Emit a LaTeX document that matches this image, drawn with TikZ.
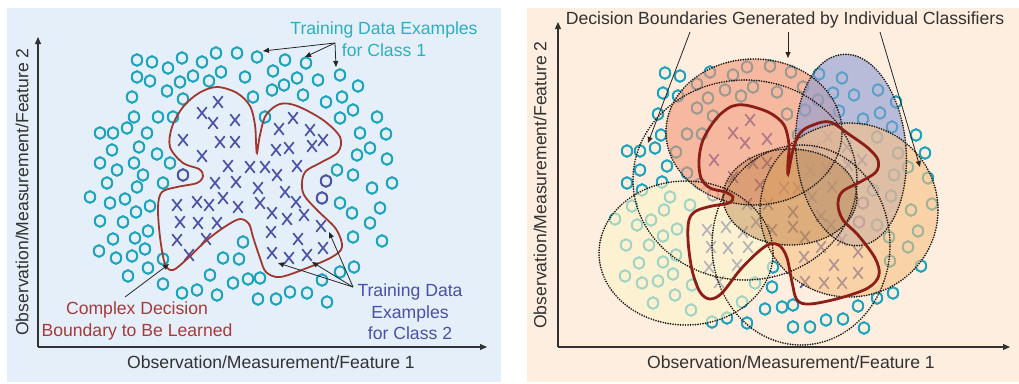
\documentclass[tikz,border=0pt]{standalone}
\usepackage{fontspec}
\setmainfont{Liberation Sans}
\usetikzlibrary{arrows.meta}

\definecolor{bgblue}{RGB}{228,239,249}
\definecolor{bgpeach}{RGB}{253,238,224}
\definecolor{oclr}{RGB}{28,164,188}
\definecolor{xclr}{RGB}{76,82,166}
\definecolor{bndl}{RGB}{160,56,48}
\definecolor{bndr}{RGB}{140,30,24}
\definecolor{txtred}{RGB}{168,58,58}
\definecolor{txtcyan}{RGB}{42,176,192}
\definecolor{txtblue}{RGB}{74,80,168}
\definecolor{axclr}{RGB}{50,50,50}
\definecolor{dotclr}{RGB}{30,26,24}
\definecolor{fsalmon}{RGB}{243,148,118}
\definecolor{fblue}{RGB}{138,156,212}
\definecolor{forange}{RGB}{248,192,130}
\definecolor{fyellow}{RGB}{252,244,200}
\definecolor{fbrown}{RGB}{170,112,48}

\begin{document}
\begin{tikzpicture}[x=1pt,y=-1pt,
  font=\fontsize{17.6}{21.5}\selectfont,
  omark/.style={draw=oclr, line width=2pt},
  pmark/.style={draw=xclr, line width=2pt},
  xcross/.pic={\draw[line width=1.7pt, draw=xclr] (-4.8,-5.8) -- (4.8,5.8) (-4.8,5.8) -- (4.8,-5.8);},
  axis/.style={draw=axclr, line width=1.1pt, -{Triangle[length=7pt,width=6pt]}},
  lead/.style={draw=black!85, line width=0.8pt, -{Triangle[length=6pt,width=5pt]}},
  dotline/.style={draw=dotclr, line width=1.9pt, line cap=round, dash pattern=on 0pt off 2.5pt},
  blob/.style={fill opacity=0.6, draw=none},
  axlabel/.style={text=axclr, inner sep=0pt},
]
\useasboundingbox (0,0) rectangle (1019,383);

% panel backgrounds
\fill[bgblue] (7,8) rectangle (501,382);
\fill[bgpeach] (527,8) rectangle (1019,382);

%% ---------------- left panel ----------------
% class 1 samples
\foreach \p in {(137,60),(152,62),(168,68),(182,58),(202,62),(216,53),(237,53),(257,57),(273,71),(285,60),(306,63),(340,75),(358,86),
  (137,77),(150,81),(167,91),(180,82),(193,76),(209,81),(221,72),(245,77),(272,90),(284,85),(297,78),(318,80),(342,97),(326,102),
  (132,97),(183,99),(253,97),(303,95),(353,110),(340,118),(377,117),
  (134,117),(158,117),(173,117),(265,117),
  (100,133),(113,133),(127,128),(147,133),(360,133),(386,134),
  (112,150),(139,147),(157,154),(170,163),(357,155),(370,148),(387,159),
  (100,163),(117,170),(134,163),(143,175),(337,170),(353,175),
  (107,183),(137,187),(163,183),(372,188),(392,183),
  (90,197),(110,203),(125,199),(150,206),(340,203),(352,213),(380,208),
  (100,221),(123,222),(136,212),(370,223),
  (113,239),(135,238),(148,231),(353,237),(382,241),
  (99,251),(116,258),(132,256),(145,249),(163,259),(243,242),(223,258),(239,259),
  (128,276),(148,268),(210,275),(233,283),(248,279),(260,278),(322,280),(340,272),(354,267),
  (163,284),(182,293),(197,290),(217,295),(258,299),(276,299),(290,292),(307,293),(327,302)}
  \draw[omark] \p ellipse[x radius=5.2pt, y radius=5.8pt];
% class 2 samples outside the boundary
\foreach \p in {(183,175),(326,181),(322,198)}
  \draw[pmark] \p ellipse[x radius=5.2pt, y radius=5.8pt];
% class 2 samples
\foreach \p in {(218,102),(202,113),(213,123),(235,120),(183,140),(220,142),(235,142),(202,156),(228,166),(250,167),(265,167),(277,175),(297,166),
  (215,183),(236,182),(258,188),(223,198),(238,207),(260,203),(285,192),(296,202),(177,205),(197,202),(209,205),(272,213),(287,219),(304,215),
  (180,222),(198,223),(217,223),(177,240),(206,239),(189,255),(271,232),(298,239),(321,226),(323,248),(272,253),(289,258),(307,255),
  (279,129),(293,118),(310,130),(276,150),(289,148),(312,146),(323,140)}
  \pic at \p {xcross};

% decision boundary to be learned
\draw[bndl, line width=1.8pt] plot[smooth cycle, tension=0.55] coordinates {
  (217,87) (237,93) (250,106) (255,125) (256,142) (257,153) (260,135) (266,115) (280,104) (297,106) (323,120) (340,137)
  (338,152) (320,163) (306,171) (302,182) (304,195) (317,210) (336,229) (342,247) (332,257) (307,268) (280,277) (266,272)
  (260,258) (253,237) (249,224) (240,219) (226,226) (207,240) (187,259) (173,270) (165,264) (160,237) (158,207) (162,192)
  (177,187) (197,183) (203,176) (199,169) (183,163) (170,147) (172,127) (183,107) (199,93)};

% axes
\coordinate (lorg) at (38,347);
\coordinate (ltop) at (38,37);
\coordinate (lend) at (487,347);
\draw[axis] (lorg) -- (ltop);
\draw[axis] (lorg) -- (lend);
\node[axlabel] (lxlab) at (271,362) {Observation/Measurement/Feature 1};
\node[axlabel, rotate=90] (lylab) at (22,192) {Observation/Measurement/Feature 2};

% labels and leaders
\node[text=txtcyan, align=center, inner sep=0pt] (cls1) at (384,39) {Training Data Examples\\for Class 1};
\node[text=txtred, align=center, inner sep=0pt] (cbound) at (137,321) {Complex Decision\\Boundary to Be Learned};
\node[text=txtblue, align=center, inner sep=0pt] (cls2) at (410,312) {Training Data\\Examples\\for Class 2};

\coordinate (c1src) at (335,43);
\coordinate (c1a) at (263,51);
\coordinate (c1b) at (305,57);
\coordinate (c1c) at (336,67);
\draw[lead] (c1src) -- (c1a);
\draw[lead] (c1src) -- (c1b);
\draw[lead] (c1src) -- (c1c);

\coordinate (cbsrc) at (125,297);
\coordinate (cbtip) at (169,264);
\draw[lead] (cbsrc) -- (cbtip);

\coordinate (c2src) at (353,287);
\coordinate (c2a) at (278,263);
\coordinate (c2b) at (312,262);
\coordinate (c2c) at (329,232);
\draw[lead] (c2src) -- (c2a);
\draw[lead] (c2src) -- (c2b);
\draw[lead] (c2src) -- (c2c);

%% ---------------- right panel ----------------
% class 1 samples
\foreach \p in {(665,73),(680,76),(710,72),(733,75),(747,67),(770,66),(791,72),
  (697,84),(725,90),(741,96),(753,87),(777,92),(663,93),(678,96),(708,98),
  (697,108),(713,116),(658,114),(787,114),(803,87),(805,110),(818,100),
  (687,134),(702,134),(661,135),(676,152),(655,148),(627,151),(640,151),(640,170),(667,166),(687,173),(627,183),(642,190),(662,182),(700,184),(798,135),
  (819,74),(842,78),(833,93),(854,95),(878,90),(896,102),(839,111),(863,119),(880,113),(892,127),(916,135),(925,153),(877,137),(898,153),(908,167),
  (894,175),(928,178),(873,190),(891,196),(911,210),(932,204),(877,225),(918,231),(889,237),(908,247),(890,261),(921,266),(893,293),(877,298),
  (858,306),(843,319),(826,320),(810,327),(793,327),(793,305),(864,328),
  (615,219),(632,206),(637,225),(651,220),(664,210),(670,197),(690,205),(677,229),(663,236),(626,245),(649,245),(676,255),(639,263),(663,262),
  (673,274),(625,276),(642,283),(658,281),(692,285),(675,295),(653,303),(691,310),(712,322),(727,318),(747,323),(742,302),(755,283),(773,267),
  (772,287),(765,309),(782,307)}
  \draw[omark] \p ellipse[x radius=5.2pt, y radius=5.8pt];
\foreach \p in {(713,195),(863,203),(859,222)}
  \draw[pmark] \p ellipse[x radius=5.2pt, y radius=5.8pt];
% class 2 samples
\foreach \p in {(750,120),(733,133),(745,143),(767,139),(714,160),(753,163),(767,163),(733,177),(760,185),(784,188),(798,188),(747,204),(768,204),
  (793,212),(812,197),(832,187),(810,170),(826,168),(828,137),(815,148),(847,147),(862,160),(848,165),(707,230),(726,227),(743,232),(711,247),
  (728,248),(748,247),(709,267),(737,265),(719,282),(772,230),(793,227),(805,237),(821,216),(831,225),(842,240),(821,247),(804,257),(858,252),
  (834,265),(858,273),(805,282),(824,283),(842,283),(756,222)}
  \pic at \p {xcross};

% regions of the individual classifiers
\fill[fyellow, blob] (686,253) ellipse[x radius=87pt, y radius=72pt];
\fill[fsalmon, blob] (754,132) ellipse[x radius=88pt, y radius=73pt];
\fill[fblue, blob, rotate around={5:(851,150)}] (851,150) ellipse[x radius=55pt, y radius=96pt];
\fill[forange, blob] (849,210) ellipse[x radius=89pt, y radius=87pt];
\fill[fbrown, fill opacity=0.36] (790,197) ellipse[x radius=67pt, y radius=48pt];

% their dotted outlines
\draw[dotline] (686,253) ellipse[x radius=87pt, y radius=72pt];
\draw[dotline] (754,132) ellipse[x radius=88pt, y radius=73pt];
\draw[dotline, rotate around={5:(851,150)}] (851,150) ellipse[x radius=55pt, y radius=96pt];
\draw[dotline] (849,210) ellipse[x radius=89pt, y radius=87pt];
\draw[dotline] (790,197) ellipse[x radius=67pt, y radius=48pt];
\draw[dotline] (745,180) ellipse[x radius=112pt, y radius=100pt];
\draw[dotline] (801,245) ellipse[x radius=89pt, y radius=100pt];

% boundary to be learned
\draw[bndr, line width=2.8pt] plot[smooth cycle, tension=0.55] coordinates {
  (737,105) (750,106) (770,113) (784,125) (789,145) (788,162) (788,174) (793,150) (800,133) (813,125) (830,122) (850,135) (868,148)
  (878,160) (876,172) (860,182) (842,192) (838,205) (843,220) (858,235) (875,258) (879,275) (868,288) (840,298) (810,304) (797,300)
  (792,282) (787,258) (780,246) (770,244) (758,252) (740,270) (722,293) (710,299) (700,292) (692,270) (688,240) (689,220) (696,211)
  (712,206) (729,203) (733,197) (725,192) (710,188) (701,178) (699,160) (703,140) (715,120) (727,109)};

% axes
\coordinate (rorg) at (558,347);
\coordinate (rtop) at (558,22);
\coordinate (rend) at (1010,347);
\draw[axis] (rorg) -- (rtop);
\draw[axis] (rorg) -- (rend);
\node[axlabel] (rxlab) at (791,362) {Observation/Measurement/Feature 1};
\node[axlabel, rotate=90] (rylab) at (540,185) {Observation/Measurement/Feature 2};

% title and leaders
\node[axlabel] (rtitle) at (785,20) {Decision Boundaries Generated by Individual Classifiers};
\coordinate (ra0) at (690,32);
\coordinate (ra1) at (648,143);
\coordinate (rb0) at (788,32);
\coordinate (rb1) at (788,58);
\coordinate (rc0) at (880,32);
\coordinate (rc1) at (920,167);
\draw[lead] (ra0) -- (ra1);
\draw[lead] (rb0) -- (rb1);
\draw[lead] (rc0) -- (rc1);
\end{tikzpicture}
\end{document}
